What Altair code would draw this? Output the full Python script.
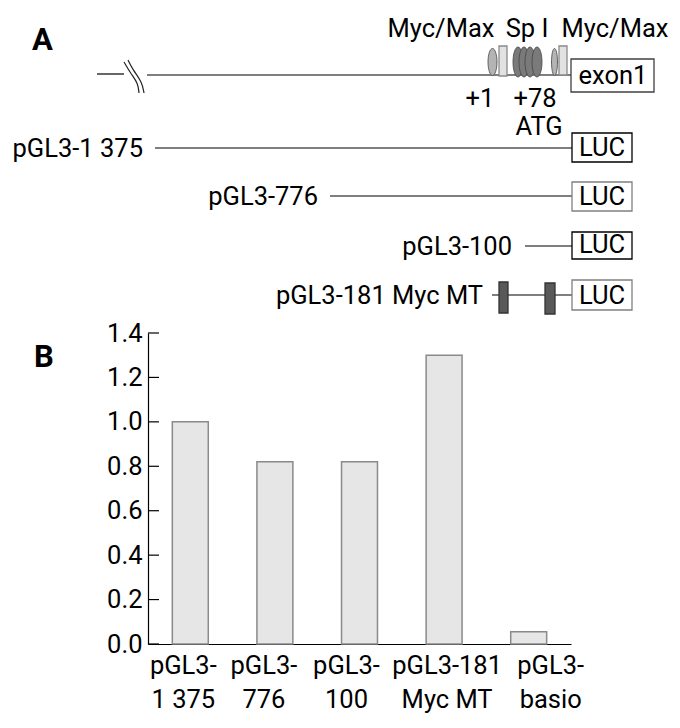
import altair as alt
import pandas as pd

FONT = "Roboto"
FS = 25.5
W, H = 664, 712

# ---------------- Panel B data ----------------
bar_labels = ["pGL3-\n1 375", "pGL3-\n776", "pGL3-\n100", "pGL3-181\nMyc MT", "pGL3-\nbasio"]
bar_values = [1.00, 0.82, 0.82, 1.30, 0.055]
y_ticks = [0.0, 0.2, 0.4, 0.6, 0.8, 1.0, 1.2, 1.4]

# ---------------- Panel A data (schematic, figure units) ----------------
construct_names = ["pGL3-1 375", "pGL3-776", "pGL3-100", "pGL3-181 Myc MT"]
construct_row = [148, 196, 246, 295]
construct_start = [155, 330, 525, 492]
construct_label_end = [143, 318, 512, 483]
luc_top = [133, 182, 232, 280]
luc_bottom = [162, 211, 259, 310]
luc_edge = ["#000000", "#808080", "#000000", "#808080"]

site_names = ["Myc/Max", "Sp I", "Myc/Max"]
site_label_pos = [441, 527, 615]
ellipse_cx = [492.5, 518, 524, 530, 537, 554.5]
ellipse_w = [9, 10, 10, 10, 10, 6]
ellipse_h = [27, 30, 30, 30, 30, 27]
ellipse_fill = ["#b4b4b4", "#7a7a7a", "#7a7a7a", "#7a7a7a", "#7a7a7a", "#b4b4b4"]
ellipse_cy = 62
ebox_x0 = [499, 559]
ebox_x1 = [507, 567]
mut_x0 = [499, 545]
mut_x1 = [508, 555]

pos_labels = ["+1", "+78"]
pos_x = [480, 535]

break_a_x = [124, 131, 138, 139]
break_a_y = [62, 74, 83, 93]
break_b_x = [128, 133, 142, 144]
break_b_y = [60, 70, 82, 93]

xs = alt.Scale(domain=[8, 8 + W], range=[0, W], zero=False, nice=False)
ys = alt.Scale(domain=[8, 8 + H], range=[0, H], zero=False, nice=False)


def X(f):
    return alt.X(f, type="quantitative", scale=xs, axis=None)


def Y(f):
    return alt.Y(f, type="quantitative", scale=ys, axis=None)


# horizontal lines
lines = pd.DataFrame({
    "x0": [97, 147] + construct_start,
    "x1": [124, 571] + [572] * 4,
    "y": [74, 75] + construct_row,
})
line_layer = alt.Chart(lines).mark_rule(color="black", strokeWidth=1.2).encode(
    x=X("x0"), x2=alt.X2("x1"), y=Y("y"))

# break symbol
brk = pd.DataFrame({
    "id": ["a"] * 4 + ["b"] * 4,
    "ord": list(range(4)) * 2,
    "x": break_a_x + break_b_x,
    "y": break_a_y + break_b_y,
})
break_layer = alt.Chart(brk).mark_line(color="#222222", strokeWidth=1.2, interpolate="basis").encode(
    x=X("x"), y=Y("y"), detail="id:N", order="ord:Q")

# rectangles
rects = pd.DataFrame({
    "x0": ebox_x0 + [571] + [572] * 4 + mut_x0,
    "x1": ebox_x1 + [654] + [632] * 4 + mut_x1,
    "y0": [46, 46] + [59] + luc_top + [282, 283],
    "y1": [76, 75] + [92] + luc_bottom + [313, 314],
    "fill": ["#e2e2e2", "#e2e2e2", "#ffffff"] + ["#ffffff"] * 4 + ["#595959", "#595959"],
    "stroke": ["#8a8a8a", "#8a8a8a", "#404040"] + luc_edge + ["#333333", "#333333"],
})
rect_layer = alt.Chart(rects).mark_rect(strokeWidth=1.3).encode(
    x=X("x0"), x2=alt.X2("x1"), y=Y("y0"), y2=alt.Y2("y1"),
    fill=alt.Fill("fill:N", scale=None), stroke=alt.Stroke("stroke:N", scale=None))


# ellipses (custom symbol path)
def ellipse_path(w, h):
    r = w / h
    return f"M 0 -1 A {r:.3f} 1 0 1 1 0 1 A {r:.3f} 1 0 1 1 0 -1 Z"


ell = pd.DataFrame({
    "x": ellipse_cx,
    "y": [ellipse_cy] * len(ellipse_cx),
    "shape": [ellipse_path(w, h) for w, h in zip(ellipse_w, ellipse_h)],
    "size": [h * h for h in ellipse_h],
    "fill": ellipse_fill,
})
ell_layer = alt.Chart(ell).mark_point(filled=True, opacity=1, stroke="#444444", strokeWidth=0.8).encode(
    x=X("x"), y=Y("y"),
    shape=alt.Shape("shape:N", scale=None),
    size=alt.Size("size:Q", scale=None),
    fill=alt.Fill("fill:N", scale=None))

# centred text
ctext = pd.DataFrame({
    "x": site_label_pos + pos_x + [539, 613] + [602] * 4,
    "y": [37, 37, 37] + [107, 107] + [135, 84] + [b - 6 for b in luc_bottom],
    "t": site_names + pos_labels + ["ATG", "exon1"] + ["LUC"] * 4,
})
ctext_layer = alt.Chart(ctext).mark_text(align="center", baseline="alphabetic", font=FONT,
                                         fontSize=FS, color="black").encode(
    x=X("x"), y=Y("y"), text="t:N")

# construct names (right aligned)
rtext = pd.DataFrame({
    "x": construct_label_end,
    "y": [r + 9 for r in construct_row],
    "t": construct_names,
})
rtext_layer = alt.Chart(rtext).mark_text(align="right", baseline="alphabetic", font=FONT,
                                         fontSize=FS, color="black").encode(
    x=X("x"), y=Y("y"), text="t:N")

# panel letters
ptext = pd.DataFrame({"x": [32, 34], "y": [50, 367], "t": ["A", "B"]})
ptext_layer = alt.Chart(ptext).mark_text(align="left", baseline="alphabetic", font=FONT,
                                         fontSize=31, fontWeight="bold", color="black").encode(
    x=X("x"), y=Y("y"), text="t:N")

# ---------------- Panel B ----------------
bdf = pd.DataFrame({"construct": bar_labels, "value": bar_values})
bx = alt.Scale(domain=bar_labels, range=[140, 563], paddingInner=0.575, paddingOuter=0.2875)
by = alt.Scale(domain=[0, 1.4], range=[636, 325], nice=False, zero=True)

label_shift = {
    "condition": [
        {"test": "datum.index < 0.1", "value": -7},
        {"test": "datum.index < 0.3", "value": -11},
        {"test": "datum.index < 0.6", "value": -13},
        {"test": "datum.index < 0.9", "value": 3},
    ],
    "value": 22,
}

bars = alt.Chart(bdf).mark_bar(fill="#e6e6e6", stroke="#8a8a8a", strokeWidth=1.5).encode(
    x=alt.X("construct:N", sort=bar_labels, scale=bx,
            axis=alt.Axis(title=None, labelExpr="split(datum.label, '\\n')", labelAngle=0,
                          labelFont=FONT, labelFontSize=FS, labelColor="black",
                          labelPadding=9, labelLineHeight=34, ticks=False, tickSize=0,
                          labelOffset=label_shift,
                          domainColor="black", domainWidth=1.2, offset=-76, grid=False)),
    y=alt.Y("value:Q", scale=by,
            axis=alt.Axis(title=None, values=y_ticks, format=".1f", labelFont=FONT,
                          labelFontSize=FS, labelColor="black", labelPadding=6,
                          ticks=False, tickSize=0, domainColor="black", domainWidth=1.2,
                          offset=-140, grid=False)),
)

tick_layer = alt.Chart(pd.DataFrame({"v": y_ticks})).mark_rule(color="black", strokeWidth=1.2).encode(
    y=alt.Y("v:Q", scale=by, axis=None), x=alt.value(140), x2=alt.value(151))

chart = alt.layer(
    line_layer, break_layer, rect_layer, ell_layer, ctext_layer, rtext_layer, ptext_layer,
    bars, tick_layer
).resolve_scale(x="independent", y="independent").properties(
    width=W, height=H, padding=0, autosize=alt.AutoSizeParams(type="none")
).configure_view(stroke=None)

chart.save("out.html", embed_options={"renderer": "svg", "actions": False})
